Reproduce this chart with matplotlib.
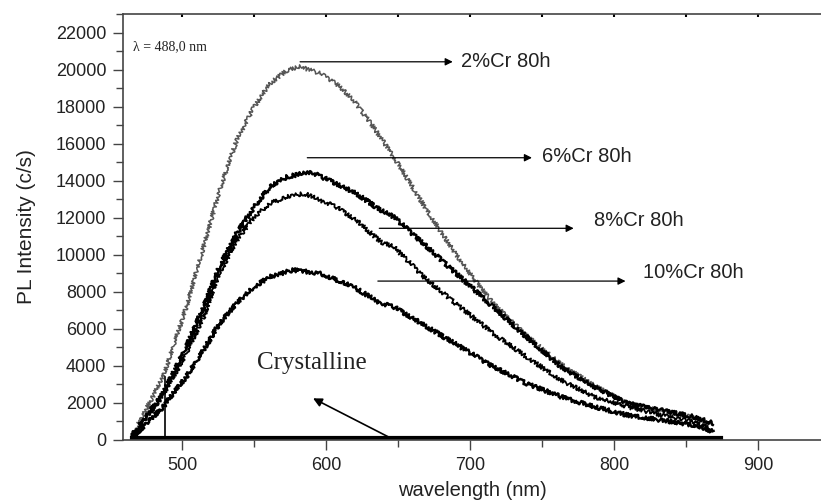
import matplotlib.pyplot as plt
from matplotlib.ticker import MultipleLocator

# spectra (wavelength nm, intensity c/s)
wl_2 = [465, 487, 503, 515, 526, 538, 550, 561, 573, 582, 596, 607, 619, 631,
        647, 670, 682, 693, 705, 716, 739, 763, 786, 809, 832, 855, 869]
pl_2 = [180, 3420, 7190, 10430, 13490, 16190, 17990, 19250, 19970, 20150, 19790,
        19250, 18350, 17110, 15290, 12410, 10970, 9720, 8460, 7380, 5650, 4100,
        2950, 2000, 1580, 1220, 850]

wl_6 = [465, 487, 503, 515, 526, 538, 550, 561, 573, 589, 607, 621, 638, 647,
        670, 693, 716, 739, 763, 786, 809, 832, 855, 869]
pl_6 = [200, 2520, 5040, 7190, 9350, 11150, 12590, 13670, 14210, 14480, 13850,
        13310, 12400, 12050, 10430, 8810, 7190, 5580, 3960, 2880, 1980, 1620,
        1260, 900]

wl_8 = [465, 487, 503, 515, 526, 538, 550, 561, 573, 585, 607, 621, 638, 647,
        670, 693, 716, 739, 763, 786, 809, 832, 855, 869]
pl_8 = [150, 2430, 4680, 6660, 9000, 10790, 12050, 12780, 13130, 13310, 12590,
        11870, 10700, 10430, 8640, 7190, 5760, 4500, 3240, 2340, 1800, 1350,
        990, 540]

wl_10 = [465, 487, 503, 515, 526, 538, 550, 561, 577, 596, 619, 638, 647, 670,
         693, 716, 739, 763, 786, 809, 832, 855, 869]
pl_10 = [90, 1800, 3420, 4860, 6300, 7380, 8270, 8810, 9180, 9000, 8270, 7380,
         7190, 6120, 5040, 3960, 3060, 2340, 1800, 1350, 1080, 810, 450]

wl_cryst = [465, 874]
pl_cryst = [100, 100]

laser_wl = 488.0
laser_top = 3400

labels = ["2%Cr 80h", "6%Cr 80h", "8%Cr 80h", "10%Cr 80h"]
# arrow tail x, arrow head x, arrow y, text x, text y
arrows = [(582, 688, 20420, 694, 20420),
          (587, 743, 15240, 750, 15290),
          (637, 772, 11430, 786, 11870),
          (636, 808, 8580, 820, 9030)]

plt.rcParams['font.family'] = ['Liberation Sans', 'DejaVu Sans']

fig = plt.figure(figsize=(8.21, 5.04), dpi=100)
ax = fig.add_axes([0.1498, 0.127, 0.8502, 0.8452])

lines = []
lines += ax.plot(wl_2, pl_2, color='#555555', linewidth=1.1)
lines += ax.plot(wl_6, pl_6, color='black', linewidth=1.7)
lines += ax.plot(wl_8, pl_8, color='black', linewidth=1.3)
lines += ax.plot(wl_10, pl_10, color='black', linewidth=1.7)
for ln in lines:
    ln.set_sketch_params(scale=2.0, length=1.2, randomness=3)

ax.plot(wl_cryst, pl_cryst, color='black', linewidth=3)
ax.plot([laser_wl, laser_wl], [0, laser_top], color='black', linewidth=1.2)

for lab, (x0, x1, y, tx, ty) in zip(labels, arrows):
    ax.annotate("", xy=(x1, y), xytext=(x0, y),
                arrowprops=dict(arrowstyle='-|>', lw=0.9, color='black',
                                mutation_scale=11, shrinkA=0, shrinkB=0))
    ax.text(tx, ty, lab, fontsize=14.5, color='#222222', va='center', ha='left')

ax.text(590, 4140, "Crystalline", fontsize=18, family='Liberation Serif',
        color='#222222', ha='center', va='center')
ax.annotate("", xy=(591, 2250), xytext=(643, 180),
            arrowprops=dict(arrowstyle='-|>', lw=1.2, color='black',
                            mutation_scale=13, shrinkA=0, shrinkB=0))

ax.text(466, 21260, "λ = 488,0 nm", fontsize=10, family='Liberation Serif',
        color='#222222', va='center', ha='left')

ax.set_xlim(459, 943.75)
ax.set_ylim(0, 23000)
ax.xaxis.set_major_locator(MultipleLocator(100))
ax.xaxis.set_minor_locator(MultipleLocator(50))
ax.yaxis.set_major_locator(MultipleLocator(2000))
ax.yaxis.set_minor_locator(MultipleLocator(1000))

ax.spines['right'].set_visible(False)
for s in ['left', 'bottom', 'top']:
    ax.spines[s].set_color('#444444')
    ax.spines[s].set_linewidth(1.2)

ax.tick_params(axis='both', which='major', direction='out', length=7,
               width=1, color='#444444', labelsize=13, labelcolor='#222222',
               pad=5)
ax.tick_params(axis='both', which='minor', direction='out', length=5,
               width=1, color='#444444')

# tiny marks on the top spine
top = ax.secondary_xaxis('top')
top.xaxis.set_major_locator(MultipleLocator(50))
top.tick_params(direction='in', length=2, width=1.5, color='black',
                labeltop=False)
top.spines['top'].set_visible(False)

ax.set_xlabel("wavelength (nm)", fontsize=14.5, color='#222222', labelpad=5)
ax.set_ylabel("PL Intensity (c/s)", fontsize=15, color='#222222', labelpad=14)

fig.savefig("out.png", dpi=100)
